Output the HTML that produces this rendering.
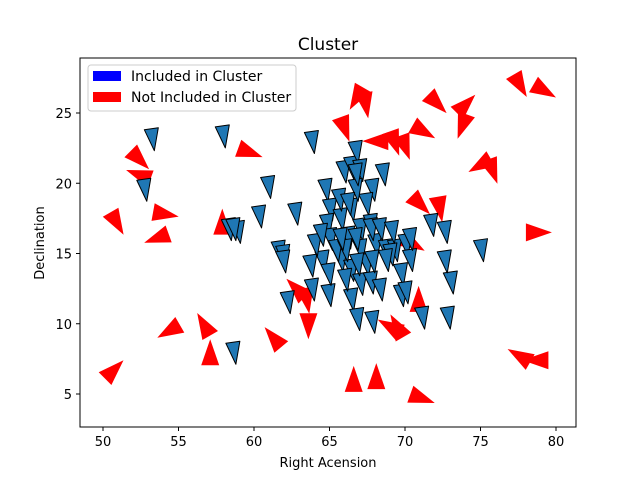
<!DOCTYPE html>
<html><head><meta charset="utf-8"><style>
body{margin:0;background:#fff}
svg text{font-family:"DejaVu Sans","Liberation Sans",sans-serif;fill:#000}
</style></head><body>
<svg id="chart" width="640" height="480" viewBox="0 0 640 480" xmlns="http://www.w3.org/2000/svg">
<rect x="0" y="0" width="640" height="480" fill="#fff"/>
<text x="328" y="50" font-size="17" text-anchor="middle">Cluster</text>
<g id="marks"></g>
<rect x="80" y="58" width="496" height="369" fill="none" stroke="#000" stroke-width="1"/>
<g id="ticks"></g>
<text x="328" y="467" font-size="13" text-anchor="middle">Right Acension</text>
<text x="44" y="243" font-size="13" text-anchor="middle" transform="rotate(-90 44 243)">Declination</text>
<g>
<rect x="88" y="65" width="208" height="46" rx="3" fill="#fff" fill-opacity="0.8" stroke="#ccc"/>
<rect x="93" y="71" width="28" height="10" fill="#0000ff"/>
<text x="131" y="81" font-size="14">Included in Cluster</text>
<rect x="93" y="92" width="28" height="10" fill="#ff0000"/>
<text x="131" y="102" font-size="14">Not Included in Cluster</text>
</g>
</svg>
<script>
const xTicks=[50,55,60,65,70,75,80];
const yTicks=[5,10,15,20,25];
const redX=[77.6,79.2,66.8,67.4,72.1,74.0,73.8,66.0,68.1,69.3,70.0,71.2,59.7,52.4,52.4,75.0,75.8,71.0,72.3,50.9,54.1,53.6,57.9,78.8,70.5,62.8,63.5,63.6,70.9,69.0,69.5,54.4,56.7,57.1,61.3,50.7,66.6,68.1,71.1,77.6,78.7];
const redY=[27.0,26.6,26.1,25.6,25.7,25.6,24.1,23.9,23.0,22.9,22.6,23.7,22.2,21.7,20.6,21.3,20.9,18.5,18.2,17.2,17.8,16.1,17.2,16.5,15.7,12.5,11.7,9.9,11.7,9.8,9.8,9.5,9.9,7.9,9.0,6.7,6.0,6.2,4.7,7.7,7.4];
const redAngle=[60,30,120,80,45,-45,110,70,180,70,70,30,20,45,-160,150,70,45,80,60,10,160,-90,0,30,-135,80,90,-90,-150,-120,150,-120,-90,-130,-45,-90,-90,20,-150,180];
const blueX=[53.2,57.9,63.8,52.7,58.3,58.9,58.6,60.9,60.3,62.7,61.6,61.9,61.9,63.7,63.8,62.2,64.9,66.4,66.8,67.8,71.1,72.8,58.6,64.7,65.0,64.8,65.0,65.9,66.4,66.7,67.0,68.5,67.8,67.4,66.4,65.7,66.2,67.0,67.7,68.0,68.7,69.3,70.0,70.3,69.7,69.7,70.0,71.7,72.6,73.0,72.6,75.0,65.7,66.4,67.0,67.4,66.0,67.0,67.7,68.3,64.5,64.9,65.4,64.0,64.4,66.7,67.7,68.3,69.0,66.7,66.0,68.7,67.8,69.1,65.6,66.2,65.7,66.8,70.3,66.7];
const blueY=[23.1,23.3,22.9,19.5,16.7,16.5,16.7,19.7,17.6,17.8,15.1,14.8,14.4,14.1,12.4,11.5,12.0,11.7,10.3,10.1,10.4,10.4,7.9,19.5,18.1,17.0,16.0,20.8,21.1,22.2,20.9,20.6,19.5,18.5,18.1,17.4,16.1,16.7,17.0,15.6,15.2,15.2,15.6,14.5,13.5,12.0,12.2,17.0,16.5,12.9,14.4,15.2,14.5,13.8,15.2,14.2,13.1,12.8,12.9,12.4,14.4,13.5,15.2,15.6,16.3,19.5,16.7,16.7,14.9,16.0,15.2,14.5,14.4,16.5,18.8,18.5,16.0,14.2,16.0,20.6];
const NS="http://www.w3.org/2000/svg";
function xs(v){return 103+(v-50)*15.1;}
function ys(v){return 394-(v-5)*14.05;}
const marks=document.getElementById('marks');
const ticks=document.getElementById('ticks');
for(let i=0;i<redX.length;i++){
  const cx=xs(redX[i]),cy=ys(redY[i]),a=redAngle[i]*Math.PI/180;
  const c=Math.cos(a),s=Math.sin(a);
  const pts=[[14,0],[-12,9],[-12,-9]].map(p=>[(cx+p[0]*c-p[1]*s).toFixed(1),(cy+p[0]*s+p[1]*c).toFixed(1)].join(',')).join(' ');
  const p=document.createElementNS(NS,'polygon');
  p.setAttribute('points',pts);
  p.setAttribute('fill','#ff0000');
  
  
  marks.appendChild(p);
}
for(let i=0;i<blueX.length;i++){
  const cx=xs(blueX[i]),cy=ys(blueY[i]);
  const pts=[[-7,-10],[7,-12],[3,11]].map(p=>(cx+p[0])+','+(cy+p[1])).join(' ');
  const p=document.createElementNS(NS,'polygon');
  p.setAttribute('points',pts);
  p.setAttribute('fill','#1f77b4');
  p.setAttribute('stroke','#000');
  p.setAttribute('stroke-width','1');
  p.setAttribute('stroke-linejoin','round');
  
  
  marks.appendChild(p);
}
xTicks.forEach(v=>{
  const x=xs(v);
  const l=document.createElementNS(NS,'line');
  l.setAttribute('x1',x);l.setAttribute('x2',x);l.setAttribute('y1',427);l.setAttribute('y2',431);
  l.setAttribute('stroke','#000');
  
  
  ticks.appendChild(l);
  const t=document.createElementNS(NS,'text');
  t.setAttribute('x',x);t.setAttribute('y',446);t.setAttribute('font-size','13');t.setAttribute('text-anchor','middle');
  t.textContent=v;
  
  
  ticks.appendChild(t);
});
yTicks.forEach(v=>{
  const y=ys(v);
  const l=document.createElementNS(NS,'line');
  l.setAttribute('x1',76);l.setAttribute('x2',80);l.setAttribute('y1',y);l.setAttribute('y2',y);
  l.setAttribute('stroke','#000');
  
  
  ticks.appendChild(l);
  const t=document.createElementNS(NS,'text');
  t.setAttribute('x',72);t.setAttribute('y',y+5);t.setAttribute('font-size','13');t.setAttribute('text-anchor','end');
  t.textContent=v;
  
  
  ticks.appendChild(t);
});
</script>
</body></html>
